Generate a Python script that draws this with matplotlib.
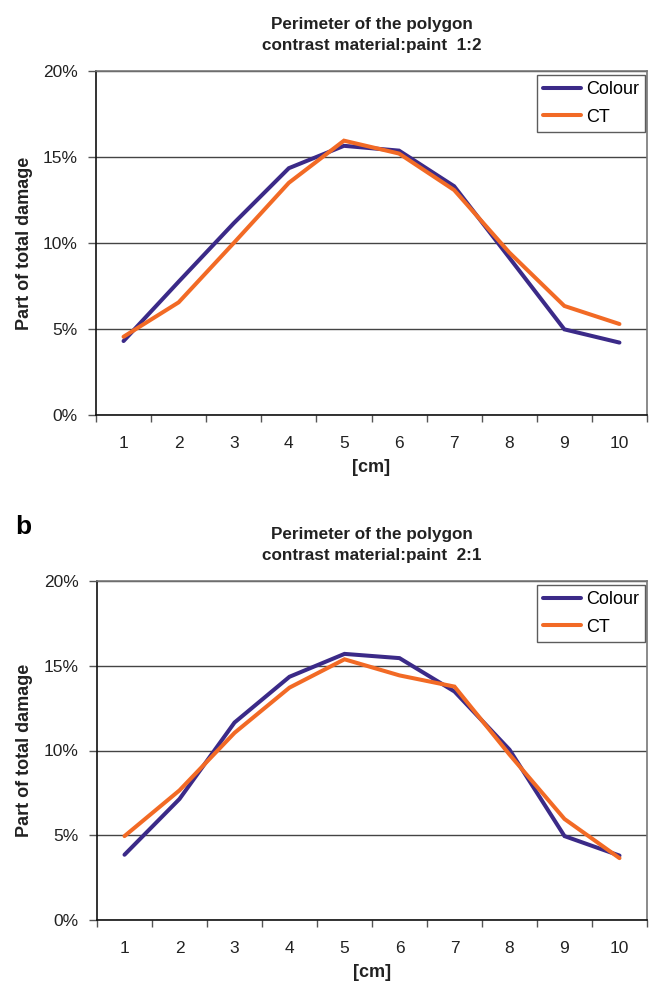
import matplotlib
matplotlib.use("Agg")
import matplotlib.pyplot as plt
from matplotlib.ticker import FuncFormatter

plt.rcParams['font.family'] = ['Liberation Sans', 'DejaVu Sans']

categories = [1, 2, 3, 4, 5, 6, 7, 8, 9, 10]
tick_labels = ['1', '2', '3', '4', '5', '6', '7', '8', '9', '10']

colour_a = [4.30, 7.75, 11.15, 14.35, 15.65, 15.37, 13.30, 9.15, 4.98, 4.21]
ct_a     = [4.55, 6.55, 10.00, 13.50, 15.95, 15.20, 13.08, 9.45, 6.34, 5.29]

colour_b = [3.85, 7.14, 11.65, 14.35, 15.70, 15.45, 13.48, 10.05, 4.95, 3.80]
ct_b     = [4.95, 7.65, 11.04, 13.71, 15.38, 14.43, 13.77, 9.76, 5.96, 3.65]

titles = ["Perimeter of the polygon\ncontrast material:paint  1:2",
          "Perimeter of the polygon\ncontrast material:paint  2:1"]

BLUE = '#3b2a88'
ORANGE = '#f26a25'
TXT = '#222222'

W, H = 650, 984
fig = plt.figure(figsize=(W / 100, H / 100), dpi=100)


def px_axes(left, top, right, bottom):
    return fig.add_axes([left / W, 1 - bottom / H, (right - left) / W, (bottom - top) / H])


def draw(ax, colour, ct, title):
    x = list(range(len(categories)))
    ax.plot(x, colour, color=BLUE, lw=2.9, label='Colour', solid_capstyle='round',
            solid_joinstyle='miter', zorder=3)
    ax.plot(x, ct, color=ORANGE, lw=2.9, label='CT', solid_capstyle='round',
            solid_joinstyle='miter', zorder=4)
    ax.set_xlim(-0.5, len(categories) - 0.5)
    ax.set_ylim(0, 20)
    ax.set_yticks([0, 5, 10, 15, 20])
    ax.yaxis.set_major_formatter(FuncFormatter(lambda v, p: f"{int(v)}%"))
    ax.set_xticks(x)
    ax.set_xticklabels(tick_labels)
    ax.set_xticks([i + 0.5 for i in range(-1, len(categories))], minor=True)
    ax.tick_params(axis='x', which='major', length=0, pad=15, labelsize=12.5,
                   labelcolor=TXT)
    ax.tick_params(axis='x', which='minor', length=5, width=1, color='#555555',
                   direction='out')
    ax.tick_params(axis='y', length=6, width=1, color='#555555', direction='out', pad=7,
                   labelsize=12.5, labelcolor=TXT)
    ax.grid(axis='y', color='#444444', lw=1.0, zorder=1)
    ax.set_axisbelow(True)
    for s in ['left', 'bottom']:
        ax.spines[s].set_color('#111111')
        ax.spines[s].set_linewidth(1.2)
    for s in ['top', 'right']:
        ax.spines[s].set_color('#777777')
        ax.spines[s].set_linewidth(1.2)
    ax.set_xlabel('[cm]', fontsize=13, fontweight='bold', labelpad=6, color=TXT)
    ax.set_title(title, fontsize=12.3, fontweight='bold', pad=15, linespacing=1.5,
                 color=TXT)
    leg = ax.legend(loc='upper right', bbox_to_anchor=(1.0, 0.995), fontsize=13,
                    frameon=True, fancybox=False, edgecolor='#333333', handlelength=2.1,
                    handletextpad=0.25, borderpad=0.35, labelspacing=0.6,
                    borderaxespad=0.1)
    leg.get_frame().set_linewidth(1.0)


ax1 = px_axes(96, 71, 647, 415)
draw(ax1, colour_a, ct_a, titles[0])

ax2 = px_axes(97, 581, 647, 920)
draw(ax2, colour_b, ct_b, titles[1])

for yc in [(71 + 415) / 2, (581 + 920) / 2]:
    fig.text(25 / W, 1 - yc / H, 'Part of total damage', fontsize=13, fontweight='bold',
             rotation=90, ha='center', va='center', color=TXT)

fig.text(15 / W, 1 - 527 / H, 'b', fontsize=19, fontweight='bold', va='center', ha='left')

fig.savefig('out.png', dpi=100)
